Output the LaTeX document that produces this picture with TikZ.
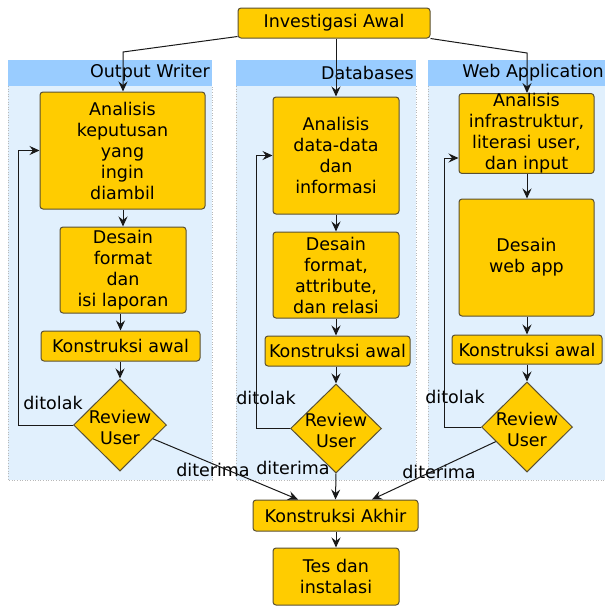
\documentclass[tikz,border=0pt]{standalone}
\usepackage{fontspec}
\setmainfont{DejaVu Sans}
\usetikzlibrary{shapes.geometric,arrows.meta,calc}
\definecolor{boxfill}{RGB}{255,204,0}
\definecolor{boxline}{RGB}{90,80,50}
\definecolor{lanehead}{RGB}{153,204,255}
\definecolor{lanebody}{RGB}{225,240,253}
\definecolor{edgecol}{RGB}{25,25,25}
\begin{document}
\begin{tikzpicture}[x=1pt,y=-1pt,
  every node/.style={font=\fontsize{17.5}{21}\selectfont},
  proc/.style={draw=boxline, fill=boxfill, rounded corners=3pt, align=center, inner sep=0pt, line width=1pt},
  dec/.style={draw=boxline, fill=boxfill, diamond, inner sep=0pt, line width=1pt},
  lbl/.style={inner sep=0pt, align=center},
  arr/.style={draw=edgecol, line width=1pt, -{Stealth[length=10pt,width=9pt,inset=3.5pt]}},
  lanebg/.style={fill=lanebody},
  laneedge/.style={draw=gray!55, dotted, line width=0.6pt},
  lanehd/.style={fill=lanehead}]
\useasboundingbox (0,0) rectangle (605,606);
\fill[white] (0,0) rectangle (605,606);

% lanes
\fill[lanebg] (8,60) rectangle (212,480);
\draw[laneedge] (8,86) -- (8,480) -- (212,480) -- (212,86);
\fill[lanehd] (8,60) rectangle (212,86);
\fill[lanebg] (236,60) rectangle (416,480);
\draw[laneedge] (236,86) -- (236,480) -- (416,480) -- (416,86);
\fill[lanehd] (236,60) rectangle (416,86);
\fill[lanebg] (428,60) rectangle (612,480);
\draw[laneedge] (428,86) -- (428,480) -- (612,480);
\fill[lanehd] (428,60) rectangle (612,86);

\node[lbl, anchor=east] (h1) at (210,73) {Output Writer};
\node[lbl, anchor=east] (h2) at (414,73) {Databases};
\node[lbl, anchor=east] (h3) at (604,73) {Web Application};

% nodes
\node[proc, minimum width=192pt, minimum height=30pt] (inv) at (334,23) {Investigasi Awal};

\node[proc, minimum width=165pt, minimum height=117pt] (an1) at (122.5,150.5) {Analisis\\keputusan\\yang\\ingin\\diambil};
\node[proc, minimum width=126pt, minimum height=86pt] (ds1) at (123,270) {Desain\\format\\dan\\isi laporan};
\node[proc, minimum width=159pt, minimum height=30pt] (ko1) at (120.5,346) {Konstruksi awal};
\node[dec, minimum width=93pt, minimum height=92pt] (rv1) at (120,425) {};
\node[lbl] (rt1) at (120,427) {Review\\User};

\node[proc, minimum width=126pt, minimum height=117pt] (an2) at (336,155.5) {Analisis\\data-data\\dan\\informasi};
\node[proc, minimum width=126pt, minimum height=86pt] (ds2) at (336,275) {Desain\\format,\\attribute,\\dan relasi};
\node[proc, minimum width=145pt, minimum height=30pt] (ko2) at (337.5,351) {Konstruksi awal};
\node[dec, minimum width=91pt, minimum height=89pt] (rv2) at (336,428.5) {};
\node[lbl] (rt2) at (336,430) {Review\\User};

\node[proc, minimum width=135pt, minimum height=77pt] (an3) at (526.5,133.5) {Analisis\\infrastruktur,\\literasi user,\\dan input};
\node[proc, minimum width=135pt, minimum height=117pt] (ds3) at (526.5,257.5) {Desain\\web app};
\node[proc, minimum width=150pt, minimum height=29pt] (ko3) at (527,349.5) {Konstruksi awal};
\node[dec, minimum width=91pt, minimum height=90pt] (rv3) at (527,427) {};
\node[lbl] (rt3) at (527,429) {Review\\User};

\node[proc, minimum width=165pt, minimum height=31pt] (ka) at (335.5,515.5) {Konstruksi Akhir};
\node[proc, minimum width=126pt, minimum height=57pt] (ts) at (336,576.5) {Tes dan\\instalasi};

% labels
\node[lbl] (dt1) at (53,403) {ditolak};
\node[lbl] (dt2) at (266,398) {ditolak};
\node[lbl] (dt3) at (455,397) {ditolak};
\node[lbl] (dr1) at (213,470) {diterima};
\node[lbl] (dr2) at (293,468) {diterima};
\node[lbl] (dr3) at (439,472) {diterima};

% connectors from Investigasi Awal
\coordinate (b1) at (123,52);
\coordinate (b3) at (527,53);
\draw[arr] ([yshift=2pt]inv.south west) -- (b1) -- (b1 |- an1.north);
\draw[arr] (inv.south -| an2.north) -- (an2.north);
\draw[arr] (inv.south east) -- (b3) -- (b3 |- an3.north);

% column 1
\draw[arr] (an1.south -| ds1.north) -- (ds1.north);
\draw[arr] (ds1.south -| ko1.north) -- (ko1.north);
\draw[arr] (ko1.south -| rv1.north) -- (rv1.north);
\draw[arr] (rv1.west) -| ($(an1.west)+(-21,0)$) -- (an1.west);

% column 2
\draw[arr] (an2.south) -- (ds2.north);
\draw[arr] (ds2.south -| rv2.north) -- (ko2.north -| rv2.north);
\draw[arr] (ko2.south -| rv2.north) -- (rv2.north);
\draw[arr] (rv2.west) -| ($(an2.west)+(-16,0)$) -- (an2.west);

% column 3
\draw[arr] (an3.south -| rv3.north) -- (ds3.north -| rv3.north);
\draw[arr] (ds3.south -| rv3.north) -- (ko3.north -| rv3.north);
\draw[arr] (ko3.south -| rv3.north) -- (rv3.north);
\draw[arr] (rv3.west) -| ($(an3.west)+(-14,24.5)$) -- ($(an3.west)+(0,24.5)$);

% to Konstruksi Akhir
\coordinate (k1) at ($(ka.north)+(-37.5,0)$);
\coordinate (k2) at (ka.north);
\coordinate (k3) at ($(ka.north)+(36.5,0)$);
\draw[arr] (rv1) -- (k1);
\draw[arr] (rv2.south) -- (k2);
\draw[arr] (rv3) -- (k3);
\draw[arr] (ka.south -| ts.north) -- (ts.north);
\end{tikzpicture}
\end{document}
